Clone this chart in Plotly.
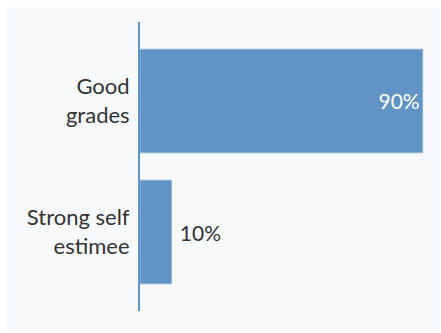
import plotly.graph_objects as go

categories = ["Good<br>grades", "Strong self<br>estimee"]
values = [90, 10]
value_labels = ["90%", "10%"]
label_positions = ["inside", "outside"]

bar_color = "#6193c4"
panel_color = "#f7f9fb"

texts = [lab if pos == "inside" else "\u00a0" + lab for lab, pos in zip(value_labels, label_positions)]

fig = go.Figure()
fig.add_trace(go.Bar(
    y=categories,
    x=values,
    orientation="h",
    marker=dict(color=bar_color, line=dict(color="#8fb2d6", width=1)),
    width=0.79,
    text=texts,
    textposition=label_positions,
    textangle=0,
    insidetextanchor="end",
    textfont=dict(size=21, family="Lato"),
    insidetextfont=dict(color="white"),
    outsidetextfont=dict(color="#333333"),
    cliponaxis=False,
))

fig.update_layout(
    width=441, height=333,
    margin=dict(l=140, r=13, t=22, b=22),
    paper_bgcolor="white",
    plot_bgcolor=panel_color,
    font=dict(family="Lato", size=22, color="#333333"),
    showlegend=False,
    xaxis=dict(range=[0, 91.7], showgrid=False, zeroline=False, showticklabels=False, ticks=""),
    yaxis=dict(autorange=False, range=[1.603, -0.603], showgrid=False, zeroline=False,
               showline=True, linecolor=bar_color, linewidth=2,
               ticks="outside", ticklen=4, tickcolor="rgba(0,0,0,0)"),
    shapes=[dict(type="rect", xref="paper", yref="paper", x0=-0.4618, x1=1.0417, y0=-0.0727, y1=1.0519,
                 fillcolor=panel_color, line=dict(width=0), layer="below")],
)

fig.write_html("out.html")
